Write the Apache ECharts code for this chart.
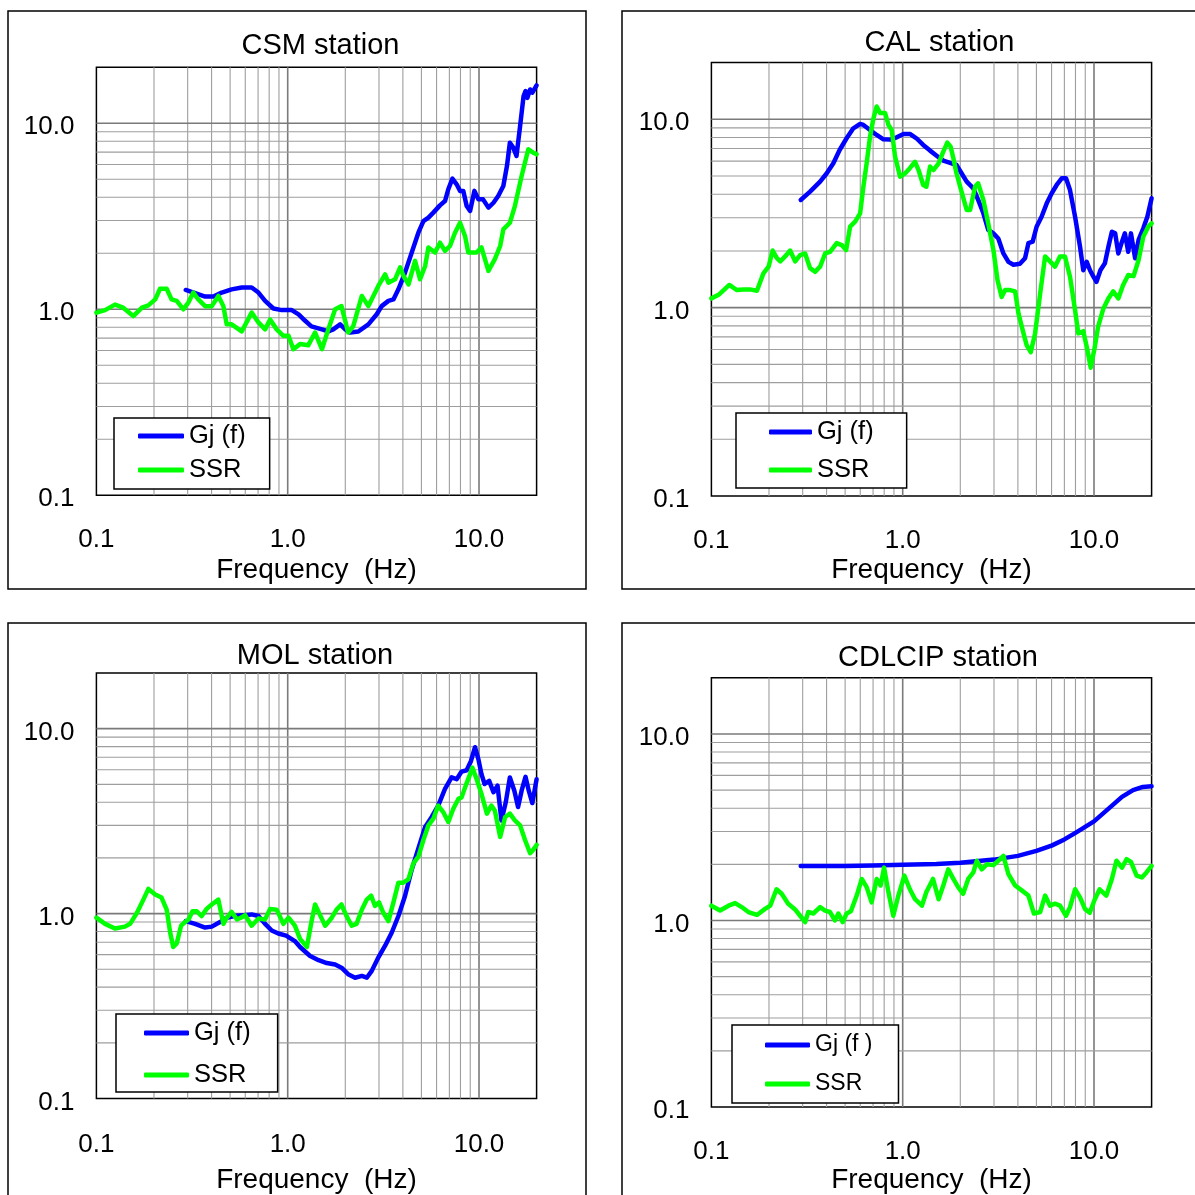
<!DOCTYPE html>
<html>
<head>
<meta charset="utf-8">
<script src="https://cdn.jsdelivr.net/npm/echarts@6/dist/echarts.min.js"></script>
<style>html,body{margin:0;padding:0;background:#fff}#chart{width:1195px;height:1195px}</style>
</head>
<body>
<div id="chart"></div>
<script>
// ---------------- DATA ----------------
const xTickValues = [0.1, 1, 10];
const gridValues = [0.2,0.3,0.4,0.5,0.6,0.7,0.8,0.9,1,2,3,4,5,6,7,8,9,10];

// CSM station
const csmSsrFreq = [0.1,0.111,0.125,0.138,0.156,0.173,0.187,0.203,0.215,0.233,0.247,0.263,0.285,0.303,0.321,0.341,0.37,0.401,0.434,0.461,0.48,0.509,0.575,0.648,0.703,0.762,0.809,0.876,0.949,1.01,1.07,1.16,1.28,1.39,1.51,1.63,1.77,1.91,2.07,2.2,2.44,2.64,2.98,3.23,3.36,3.64,3.87,4.03,4.28,4.63,4.92,5.23,5.44,5.89,6.25,6.64,7.05,7.49,7.96,8.45,8.79,9.72,10.3,11.2,12.1,12.9,13.4,14.5,15.4,16.7,18.1,19.2,20];
const csmSsrVal = [0.96,0.99,1.06,1.02,0.92,1.02,1.05,1.13,1.29,1.29,1.13,1.11,1.0,1.09,1.23,1.13,1.04,1.04,1.18,1.04,0.83,0.83,0.76,0.96,0.85,0.78,0.88,0.78,0.72,0.72,0.61,0.65,0.64,0.75,0.61,0.78,1.0,1.04,0.75,0.81,1.18,1.04,1.34,1.54,1.39,1.45,1.68,1.51,1.36,1.82,1.45,1.71,2.15,2.02,2.28,2.06,2.19,2.58,2.92,2.48,2.02,2.02,2.15,1.61,1.86,2.19,2.69,2.92,3.59,5.21,7.25,6.95,6.81];
const csmGjFreq = [0.293,0.328,0.37,0.409,0.452,0.509,0.575,0.648,0.703,0.762,0.842,0.931,1.05,1.14,1.23,1.33,1.51,1.63,1.73,1.88,2.0,2.12,2.34,2.64,2.92,3.1,3.36,3.57,3.79,4.1,4.45,4.82,5.12,5.44,5.77,6.25,6.64,6.91,7.26,7.64,7.96,8.28,8.62,8.98,9.46,9.93,10.5,11.2,11.9,12.6,13.4,14.0,14.5,15.1,15.7,16.4,17.1,17.5,17.9,18.5,19.0,20];
const csmGjVal = [1.27,1.22,1.17,1.17,1.23,1.28,1.31,1.31,1.23,1.11,1.01,0.99,0.99,0.94,0.87,0.81,0.78,0.76,0.78,0.83,0.78,0.75,0.76,0.83,0.94,1.04,1.11,1.13,1.28,1.57,2.02,2.58,2.98,3.11,3.31,3.62,3.82,4.42,5.04,4.70,4.33,4.33,3.59,3.38,4.33,3.90,3.90,3.52,3.74,4.07,4.60,5.90,7.87,7.40,6.67,9.68,14.0,14.9,13.7,15.2,14.6,16.0];

// CAL station
const calSsrFreq = [0.1,0.109,0.116,0.124,0.136,0.147,0.159,0.173,0.187,0.199,0.209,0.22,0.229,0.243,0.258,0.274,0.291,0.309,0.328,0.348,0.37,0.393,0.417,0.452,0.48,0.506,0.531,0.564,0.599,0.623,0.648,0.675,0.703,0.731,0.762,0.809,0.842,0.876,0.912,0.969,1.03,1.09,1.16,1.21,1.28,1.33,1.39,1.45,1.54,1.63,1.71,1.78,1.84,1.91,2.03,2.16,2.25,2.39,2.48,2.64,2.8,2.98,3.13,3.29,3.43,3.64,3.87,4.03,4.28,4.45,4.67,4.92,5.23,5.55,5.89,6.25,6.64,7.05,7.49,7.96,8.28,8.79,9.16,9.61,10.1,10.5,11.2,11.9,12.6,13.4,14.2,15.1,16.1,17.1,18.1,19.2,20];
const calSsrVal = [1.12,1.17,1.24,1.32,1.24,1.25,1.25,1.23,1.52,1.65,2.01,1.83,1.76,1.87,2.01,1.76,1.9,1.94,1.62,1.55,1.65,1.94,1.98,2.2,2.15,2.02,2.69,2.86,3.17,4.39,5.84,8.09,10.1,11.7,10.8,10.8,9.33,8.78,6.34,4.96,5.17,5.5,5.95,5.38,4.48,4.39,5.61,5.38,5.84,6.74,7.52,7.16,6.21,5.17,4.13,3.3,3.3,4.39,4.57,3.73,2.8,2.02,1.4,1.14,1.24,1.24,1.22,0.93,0.73,0.63,0.58,0.73,1.19,1.87,1.76,1.65,1.87,1.87,1.46,0.97,0.73,0.75,0.62,0.48,0.62,0.79,0.99,1.12,1.22,1.12,1.32,1.49,1.47,1.79,2.38,2.69,2.8];
const calGjFreq = [0.293,0.328,0.37,0.401,0.434,0.468,0.509,0.552,0.599,0.623,0.675,0.731,0.793,0.859,0.931,1.01,1.09,1.18,1.28,1.39,1.51,1.63,1.77,1.91,2.03,2.16,2.34,2.48,2.64,2.8,2.98,3.16,3.36,3.57,3.79,4.1,4.36,4.54,4.78,5.01,5.32,5.66,6.01,6.38,6.78,7.14,7.49,7.96,8.45,8.79,9.16,9.53,9.93,10.3,10.8,11.4,11.9,12.4,12.9,13.4,14.0,14.5,15.1,15.6,16.4,17.1,18.1,19.0,20];
const calGjVal = [3.73,4.13,4.67,5.17,5.84,6.87,7.93,8.96,9.45,9.33,8.78,8.26,7.83,7.8,8.02,8.36,8.36,7.93,7.31,6.82,6.39,6.03,5.87,5.72,5.17,4.67,4.3,3.73,3.17,2.59,2.48,2.33,1.94,1.75,1.69,1.71,1.83,2.2,2.24,2.69,3.04,3.58,4.05,4.48,4.86,4.86,4.21,3.04,2.11,1.58,1.75,1.58,1.46,1.37,1.58,1.72,2.11,2.53,2.48,1.94,2.24,2.48,1.98,2.48,1.83,2.29,2.64,3.04,3.81];

// MOL station
const molSsrFreq = [0.1,0.111,0.125,0.141,0.15,0.163,0.176,0.187,0.203,0.219,0.233,0.243,0.252,0.263,0.277,0.291,0.303,0.318,0.334,0.355,0.377,0.401,0.434,0.461,0.48,0.509,0.543,0.569,0.599,0.648,0.703,0.762,0.809,0.876,0.949,1.01,1.09,1.16,1.26,1.33,1.39,1.47,1.57,1.7,1.8,1.91,2.03,2.16,2.29,2.44,2.59,2.73,2.86,3.0,3.16,3.36,3.57,3.79,4.02,4.27,4.54,4.82,5.12,5.44,5.77,6.12,6.5,6.91,7.34,7.8,8.11,8.52,8.98,9.23,9.72,10.3,11.0,11.6,12.1,12.9,13.7,14.5,15.4,16.4,17.4,18.5,19.2,20];
const molSsrVal = [0.95,0.88,0.83,0.85,0.88,1.01,1.19,1.36,1.27,1.22,1.05,0.79,0.66,0.69,0.86,0.9,0.93,1.03,1.03,0.97,1.06,1.12,1.19,0.88,0.95,1.02,0.93,0.95,0.98,0.86,0.94,0.93,1.06,1.05,0.88,0.95,0.86,0.73,0.66,0.9,1.12,0.99,0.86,0.95,1.05,1.12,0.97,0.86,0.88,1.05,1.19,1.25,1.1,1.15,1.01,0.91,1.15,1.47,1.47,1.53,1.87,2.03,2.5,3.0,3.26,3.84,3.54,3.13,3.69,4.17,4.25,4.92,5.68,6.16,5.33,4.44,3.47,3.84,3.61,2.6,3.33,3.47,3.19,3.0,2.5,2.12,2.21,2.35];
const molGjFreq = [0.293,0.328,0.37,0.401,0.443,0.48,0.526,0.586,0.648,0.703,0.762,0.825,0.893,0.981,1.09,1.16,1.31,1.45,1.6,1.77,1.91,2.07,2.25,2.44,2.59,2.75,2.98,3.23,3.5,3.79,4.1,4.45,4.82,5.23,5.66,6.12,6.64,7.19,7.64,8.11,8.62,9.08,9.53,9.93,10.3,10.7,11.3,11.9,12.5,13.1,13.8,14.5,15.3,16.0,16.7,17.5,18.2,19.0,20];
const molGjVal = [0.91,0.88,0.84,0.85,0.9,0.95,0.97,0.98,0.99,0.97,0.88,0.81,0.78,0.76,0.71,0.66,0.59,0.56,0.54,0.53,0.51,0.47,0.45,0.46,0.45,0.49,0.58,0.67,0.79,0.97,1.24,1.73,2.25,2.94,3.33,3.84,4.72,5.45,5.33,5.86,5.96,6.69,7.94,6.82,5.68,5.02,5.22,4.53,4.92,3.19,4.0,5.45,4.62,3.77,4.62,5.49,4.62,3.96,5.33];

// CDLCIP station
const cdlSsrFreq = [0.1,0.111,0.123,0.133,0.144,0.156,0.173,0.19,0.203,0.219,0.233,0.252,0.273,0.291,0.309,0.321,0.341,0.37,0.393,0.417,0.442,0.461,0.486,0.509,0.536,0.575,0.611,0.648,0.688,0.731,0.767,0.799,0.842,0.893,0.949,1.02,1.09,1.16,1.26,1.33,1.44,1.54,1.63,1.73,1.84,1.95,2.07,2.2,2.34,2.44,2.59,2.75,2.98,3.16,3.36,3.57,3.87,4.19,4.54,4.85,5.23,5.55,5.89,6.25,6.64,7.14,7.49,7.96,8.45,8.98,9.5,10.1,10.7,11.6,12.4,13.1,14.0,14.8,15.6,16.7,17.8,18.8,20];
const cdlSsrVal = [1.2,1.13,1.2,1.24,1.18,1.11,1.07,1.15,1.2,1.47,1.39,1.23,1.15,1.06,0.98,1.11,1.09,1.18,1.13,1.11,1.0,1.09,0.98,1.09,1.12,1.36,1.67,1.51,1.25,1.67,1.54,1.92,1.42,1.06,1.36,1.74,1.47,1.3,1.2,1.42,1.67,1.3,1.54,1.88,1.67,1.51,1.39,1.67,1.81,2.09,1.88,2.0,1.98,2.09,2.22,1.77,1.54,1.45,1.36,1.09,1.11,1.36,1.2,1.23,1.2,1.06,1.18,1.47,1.33,1.15,1.1,1.3,1.47,1.36,1.67,2.09,1.92,2.13,2.06,1.74,1.7,1.81,1.96];
const cdlGjFreq = [0.293,0.4,0.5,0.7,1.0,1.5,2,3,4,5,6,7,8,10,12,14,16,18,20];
const cdlGjVal = [1.96,1.96,1.96,1.97,1.99,2.01,2.04,2.12,2.22,2.36,2.52,2.72,2.95,3.4,4.0,4.6,5.0,5.2,5.25];

const stationTitles = ['CSM station', 'CAL station', 'MOL station', 'CDLCIP station'];
const gjNames = ['Gj (f)', 'Gj (f)', 'Gj (f)', 'Gj (f )'];
const ssrName = 'SSR';
const xAxisName = 'Frequency  (Hz)';

// ---------------- LAYOUT / STYLE ----------------
const FONT = '"Liberation Sans", Arial, Helvetica, sans-serif';
const BLUE = '#0000ff';
const GREEN = '#00ff00';
const PANELS = [
  {titleX:320.5, titleY:46, box:[8,11,578,578], grid:{left:96.4, top:67.3, width:440.2, height:428}, labelMargin:32, nameGap:60.5,
   legend:{left:114, top:418, padding:[4,24,5,24], itemGap:6, itemWidth:46, fontSize:25.5, lineHeight:28}},
  {titleX:939.5, titleY:43, box:[622,11,600,578], grid:{left:711.4, top:62.6, width:440.2, height:433.4}, labelMargin:32, nameGap:60,
   legend:{left:736, top:413, padding:[5,33,4,33], itemGap:10, itemWidth:43, fontSize:25.5, lineHeight:28}},
  {titleX:315, titleY:655.6, box:[8,623,578,600], grid:{left:96.4, top:673, width:440.2, height:430.3}, labelMargin:33, nameGap:67.5,
   legend:{left:116, top:1014, padding:[5,27,3,28], itemGap:14, itemWidth:45, fontSize:25.5, lineHeight:28}},
  {titleX:938, titleY:658.2, box:[622,623,600,600], grid:{left:711.4, top:677.8, width:440.2, height:431.9}, labelMargin:32, nameGap:59,
   legend:{left:732, top:1025, padding:[7,26,6,33], itemGap:13, itemWidth:45, fontSize:23, lineHeight:26}}
];
const SERIES_DATA = [
  [csmGjFreq, csmGjVal, csmSsrFreq, csmSsrVal],
  [calGjFreq, calGjVal, calSsrFreq, calSsrVal],
  [molGjFreq, molGjVal, molSsrFreq, molSsrVal],
  [cdlGjFreq, cdlGjVal, cdlSsrFreq, cdlSsrVal]
];

function fmtLabel(v) {
  const l = Math.log10(v);
  return Math.abs(l - Math.round(l)) < 1e-6 ? v.toFixed(1) : '';
}
function gridLineStyle(v) {
  const l = Math.log10(v);
  const major = Math.abs(l - Math.round(l)) < 1e-6;
  return major ? {stroke:'#7a7a7a', lineWidth:1.6} : {stroke:'#9e9e9e', lineWidth:1.1};
}
function gridLines(gi, dir) {
  return {
    type:'custom', xAxisIndex:gi, yAxisIndex:gi, silent:true, z:1, animation:false,
    data: gridValues.map(v => [v]),
    renderItem: function (params, api) {
      const v = api.value(0);
      const cs = params.coordSys;
      if (dir === 'x') {
        const p = api.coord([v, 1]);
        return {type:'line', shape:{x1:p[0], y1:cs.y, x2:p[0], y2:cs.y + cs.height}, style:gridLineStyle(v)};
      }
      const p = api.coord([1, v]);
      return {type:'line', shape:{x1:cs.x, y1:p[1], x2:cs.x + cs.width, y2:p[1]}, style:gridLineStyle(v)};
    }
  };
}
function lineSeries(name, freq, vals, color, gi, z) {
  return {
    type:'line', name:name, xAxisIndex:gi, yAxisIndex:gi, z:z,
    data: freq.map((f, i) => [f, vals[i]]),
    symbol:'none', showSymbol:false, color:color,
    lineStyle:{width:4.5, color:color, cap:'round', join:'round'},
    animation:false
  };
}

const grids = [], xAxes = [], yAxes = [], series = [], legends = [], graphics = [];
PANELS.forEach((p, i) => {
  grids.push(Object.assign({show:true, borderColor:'#000', borderWidth:1.5, backgroundColor:'#fff', containLabel:false}, p.grid));
  xAxes.push({
    type:'log', logBase:10, gridIndex:i, min:0.1, max:20,
    axisLine:{show:false}, axisTick:{show:false}, splitLine:{show:false}, minorTick:{show:false},
    axisLabel:{fontSize:26, color:'#000', fontFamily:FONT, margin:p.labelMargin, formatter:fmtLabel, showMaxLabel:false},
    name:xAxisName, nameLocation:'middle', nameGap:p.nameGap,
    nameTextStyle:{fontSize:28, color:'#000', fontFamily:FONT}
  });
  yAxes.push({
    type:'log', logBase:10, gridIndex:i, min:0.1, max:20,
    axisLine:{show:false}, axisTick:{show:false}, splitLine:{show:false}, minorTick:{show:false},
    axisLabel:{fontSize:26, color:'#000', fontFamily:FONT, margin:22, verticalAlign:'top', lineHeight:8, formatter:fmtLabel, showMaxLabel:false}
  });
  series.push(gridLines(i, 'x'));
  series.push(gridLines(i, 'y'));
  const d = SERIES_DATA[i];
  series.push(lineSeries(gjNames[i], d[0], d[1], BLUE, i, 3));
  series.push(lineSeries(ssrName, d[2], d[3], GREEN, i, 4));
  const L = p.legend;
  legends.push({
    orient:'vertical', left:L.left, top:L.top, padding:L.padding, itemGap:L.itemGap,
    itemWidth:L.itemWidth, itemHeight:5, icon:'roundRect', selectedMode:false,
    backgroundColor:'#fff', borderColor:'#000', borderWidth:1.5, borderRadius:0,
    textStyle:{fontSize:L.fontSize, lineHeight:L.lineHeight, color:'#000', fontFamily:FONT},
    data:[gjNames[i], ssrName]
  });
  graphics.push({type:'rect', silent:true, z:0, shape:{x:p.box[0], y:p.box[1], width:p.box[2], height:p.box[3]},
    style:{fill:'none', stroke:'#000', lineWidth:1.5}});
  graphics.push({type:'text', silent:true, x:p.titleX, y:p.titleY,
    style:{text:stationTitles[i], fontSize:29, fontFamily:FONT, fill:'#000', align:'center', verticalAlign:'middle'}});
});

const chart = echarts.init(document.getElementById('chart'), null, {renderer:'canvas'});
chart.setOption({
  backgroundColor:'#fff',
  animation:false,
  grid:grids, xAxis:xAxes, yAxis:yAxes, series:series, legend:legends, graphic:graphics
});
</script>
</body>
</html>
